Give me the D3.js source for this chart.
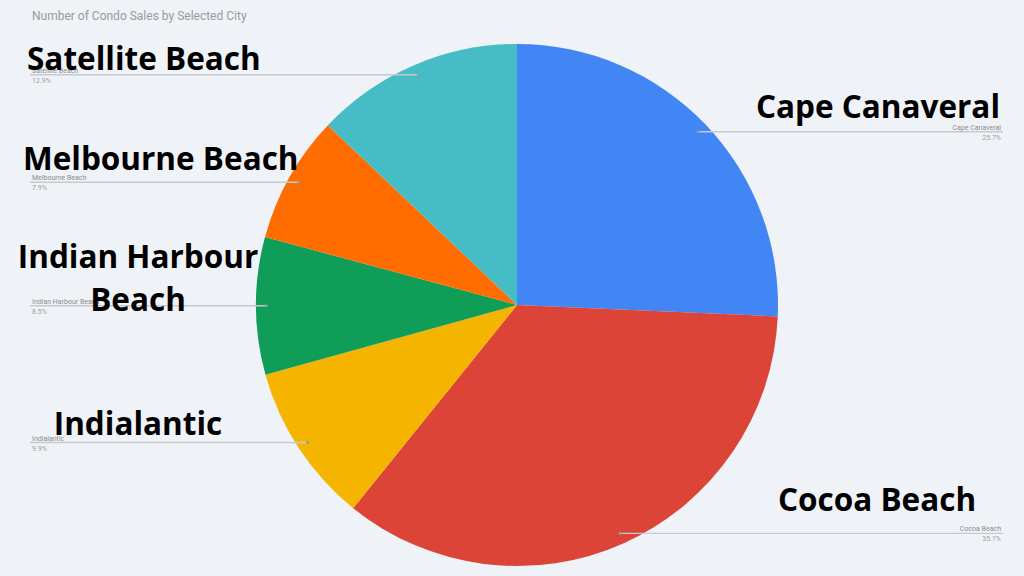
<!DOCTYPE html>
<html>
<head>
<meta charset="utf-8">
<script src="https://cdn.jsdelivr.net/npm/d3@7"></script>
<style>
  body { margin: 0; background: #eff2f7; }
  svg { display: block; }
</style>
</head>
<body>
<script>
// share of condo sales per city (percent)
var cities = ["Cape Canaveral", "Cocoa Beach", "Indialantic", "Indian Harbour Beach", "Melbourne Beach", "Satellite Beach"];
var shares = [25.7, 35.1, 9.9, 8.5, 7.9, 12.9];
var shareLabels = ["25.7%", "35.1%", "9.9%", "8.5%", "7.9%", "12.9%"];
var colors = ["#4285f4", "#db4437", "#f4b400", "#0f9d58", "#ff6d00", "#46bdc6"];

var width = 1024, height = 576;
var cx = 517, cy = 305, radius = 261;

var svg = d3.select("body").append("svg")
    .attr("width", width)
    .attr("height", height);

svg.append("rect")
    .attr("width", width)
    .attr("height", height)
    .attr("fill", "#eff2f7");

// chart title
svg.append("text")
    .attr("x", 32)
    .attr("y", 20)
    .style("font-family", "Roboto, sans-serif")
    .style("font-size", "12px")
    .style("fill", "#9a9a9a")
    .text("Number of Condo Sales by Selected City");

var data = cities.map(function(c, i) {
  return { city: c, value: shares[i], label: shareLabels[i], color: colors[i] };
});

var pie = d3.pie()
    .sort(null)
    .value(function(d) { return d.value; });

var arc = d3.arc().innerRadius(0).outerRadius(radius);
var leaderArc = d3.arc().innerRadius(radius * 0.96).outerRadius(radius * 0.96);

var g = svg.append("g")
    .attr("transform", "translate(" + cx + "," + cy + ")");

var arcs = pie(data);

g.selectAll("path.slice")
    .data(arcs)
    .enter()
    .append("path")
    .attr("class", "slice")
    .attr("d", arc)
    .attr("fill", function(d) { return d.data.color; });

// leader lines with the small chart labels
var leftEdge = 30 - cx, rightEdge = 1003 - cx;

arcs.forEach(function(d) {
  var p = leaderArc.centroid(d);
  var mid = (d.startAngle + d.endAngle) / 2;
  var right = mid < Math.PI;
  var endX = right ? rightEdge : leftEdge;

  g.append("line")
      .attr("x1", p[0]).attr("y1", p[1])
      .attr("x2", endX).attr("y2", p[1])
      .attr("stroke", "#c6c9ce")
      .attr("stroke-width", 1.4);

  g.append("circle")
      .attr("cx", p[0]).attr("cy", p[1])
      .attr("r", 1.5)
      .attr("fill", "#999");

  var anchor = right ? "end" : "start";
  var tx = right ? rightEdge - 2 : leftEdge + 2;

  g.append("text")
      .attr("x", tx).attr("y", p[1] - 2)
      .attr("text-anchor", anchor)
      .style("font-family", "Roboto, sans-serif")
      .style("font-size", "7px")
      .style("fill", "#8c8c8c")
      .text(d.data.city);

  g.append("text")
      .attr("x", tx).attr("y", p[1] + 8)
      .attr("text-anchor", anchor)
      .style("font-family", "Roboto, sans-serif")
      .style("font-size", "7px")
      .style("fill", "#a0a0a0")
      .text(d.data.label);
});

// large overlay callouts placed by hand over the chart
var callouts = [
  { lines: ["Satellite Beach"], x: 27, y: 70, anchor: "start" },
  { lines: ["Cape Canaveral"], x: 1000, y: 118, anchor: "end" },
  { lines: ["Melbourne Beach"], x: 23, y: 170, anchor: "start" },
  { lines: ["Indian Harbour", "Beach"], x: 138, y: 268, anchor: "middle" },
  { lines: ["Indialantic"], x: 138, y: 435, anchor: "middle" },
  { lines: ["Cocoa Beach"], x: 877, y: 511, anchor: "middle" }
];

callouts.forEach(function(c) {
  var t = svg.append("text")
      .attr("x", c.x)
      .attr("y", c.y)
      .attr("text-anchor", c.anchor)
      .style("font-family", "'Open Sans', sans-serif")
      .style("font-weight", "bold")
      .style("font-size", "31.5px")
      .style("fill", "#000");
  c.lines.forEach(function(line, i) {
    t.append("tspan")
        .attr("x", c.x)
        .attr("dy", i === 0 ? 0 : 43)
        .text(line);
  });
});
</script>
</body>
</html>
